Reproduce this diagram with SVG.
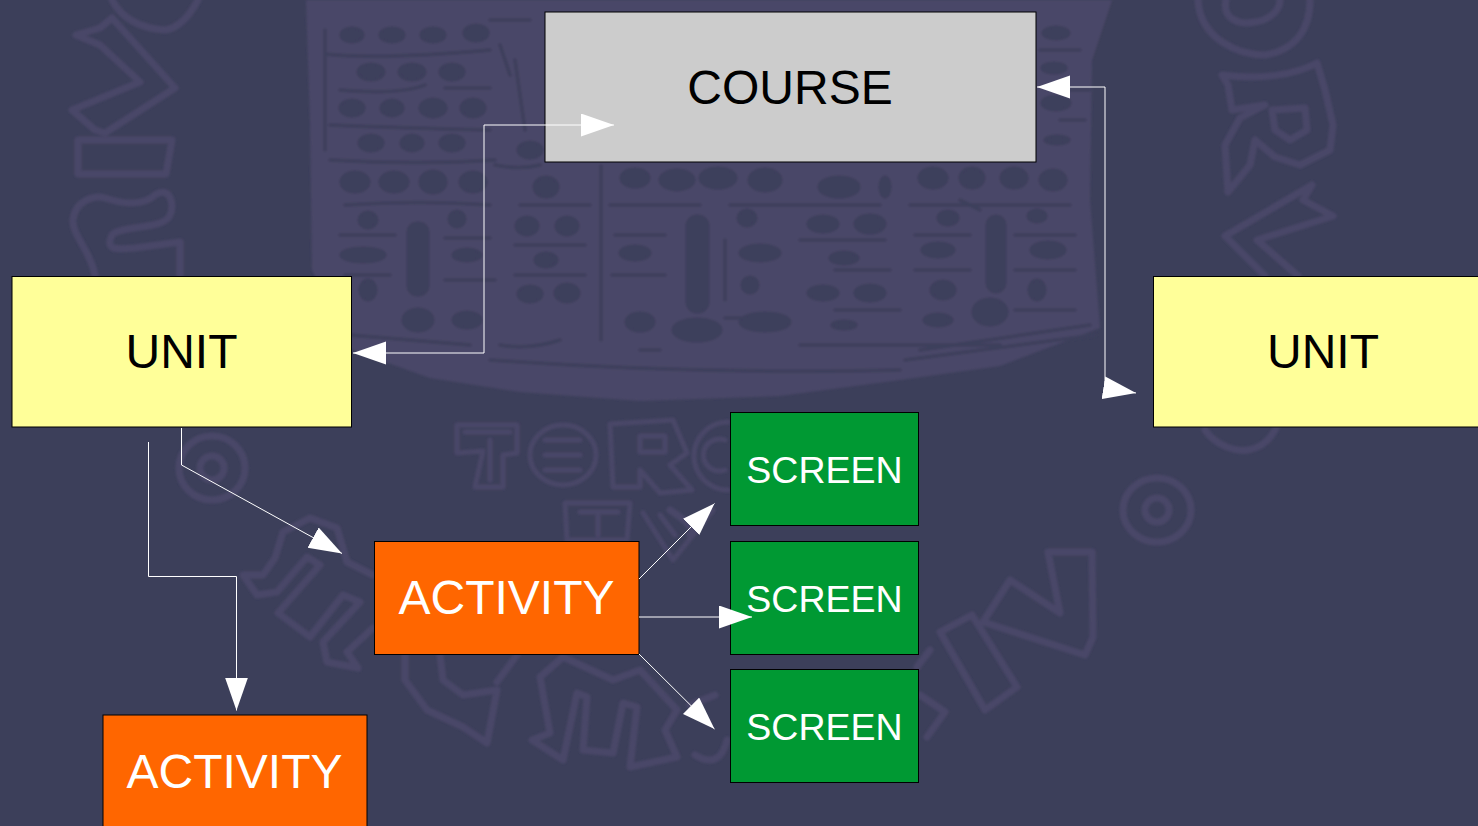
<svg xmlns="http://www.w3.org/2000/svg" width="1478" height="826" viewBox="0 0 1478 826">
<defs>
<style>
.wm{fill:none;stroke:#4a4768;stroke-width:7;stroke-linejoin:round;stroke-linecap:round}
.wt{fill:none;stroke:#4a4768;stroke-width:5;stroke-linejoin:round;stroke-linecap:round}
.h{fill:#3d3f5c;stroke:#3d3f5c;stroke-width:3}
.hl{fill:none;stroke:#3d3f5c;stroke-width:3.500;stroke-linecap:round}
.c{fill:none;stroke:#fff;stroke-width:1}
.b{stroke:#000;stroke-width:1}
text{font-family:"Liberation Sans",Arial,sans-serif;text-anchor:middle}
.k{fill:#000;font-size:48px}
.w{fill:#fff;font-size:48px}
.s{fill:#fff;font-size:37.500px}
</style>
<filter id="soft" x="-2%" y="-2%" width="104%" height="104%"><feGaussianBlur stdDeviation="0.9"/></filter>
<marker id="a" markerUnits="userSpaceOnUse" markerWidth="34" markerHeight="24" refX="33" refY="11.5" orient="auto-start-reverse"><path d="M0 0L33 11.5L0 23Z" fill="#fff"/></marker>
</defs>
<rect width="1478" height="826" fill="#3c3f5a"/>
<g id="watermark" filter="url(#soft)">
<path d="M306 0H1112L1092 60L1090 200L1100 328L1000 366L900 380L780 396L640 401L520 392L430 378L352 350L312 270L310 120Z" fill="#4a4768"/>
<g class="h">
<ellipse cx="352" cy="35" rx="11" ry="7"/><ellipse cx="392" cy="35" rx="12" ry="7"/><ellipse cx="433" cy="35" rx="12" ry="7"/><ellipse cx="476" cy="33" rx="12" ry="8"/>
<ellipse cx="371" cy="72" rx="13" ry="8"/><ellipse cx="412" cy="72" rx="13" ry="8"/><ellipse cx="452" cy="72" rx="12" ry="8"/>
<ellipse cx="352" cy="108" rx="12" ry="8"/><ellipse cx="392" cy="108" rx="11" ry="8"/><ellipse cx="433" cy="108" rx="13" ry="9"/><ellipse cx="473" cy="108" rx="12" ry="9"/>
<ellipse cx="371" cy="143" rx="12" ry="8"/><ellipse cx="412" cy="143" rx="11" ry="8"/><ellipse cx="452" cy="143" rx="12" ry="8"/><ellipse cx="530" cy="150" rx="12" ry="8"/>
<ellipse cx="355" cy="182" rx="14" ry="10"/><ellipse cx="394" cy="182" rx="14" ry="10"/><ellipse cx="433" cy="182" rx="13" ry="11"/><ellipse cx="473" cy="182" rx="13" ry="10"/><ellipse cx="546" cy="187" rx="12" ry="10"/>
<ellipse cx="635" cy="178" rx="14" ry="9"/><ellipse cx="677" cy="180" rx="17" ry="10"/><ellipse cx="718" cy="178" rx="18" ry="10"/><ellipse cx="765" cy="180" rx="16" ry="11"/><ellipse cx="839" cy="187" rx="20" ry="10"/><ellipse cx="885" cy="187" rx="5" ry="10"/>
<ellipse cx="933" cy="178" rx="14" ry="10"/><ellipse cx="972" cy="178" rx="12" ry="10"/><ellipse cx="1014" cy="178" rx="13" ry="10"/><ellipse cx="1053" cy="180" rx="13" ry="10"/>
<ellipse cx="1056" cy="33" rx="13" ry="6"/><ellipse cx="1056" cy="103" rx="14" ry="7"/><ellipse cx="1054" cy="68" rx="12" ry="5"/><ellipse cx="1057" cy="140" rx="12" ry="4"/>
<rect x="408" y="223" width="20" height="72" rx="9"/><rect x="687" y="216" width="21" height="96" rx="10"/><rect x="987" y="216" width="18" height="76" rx="9"/>
<ellipse cx="368" cy="220" rx="9" ry="8"/><ellipse cx="457" cy="219" rx="8" ry="8"/><ellipse cx="527" cy="226" rx="11" ry="9"/><ellipse cx="567" cy="226" rx="11" ry="9"/><ellipse cx="747" cy="218" rx="9" ry="8"/><ellipse cx="823" cy="224" rx="15" ry="8"/><ellipse cx="870" cy="224" rx="15" ry="9"/><ellipse cx="948" cy="218" rx="10" ry="7"/><ellipse cx="1037" cy="216" rx="9" ry="6"/>
<ellipse cx="363" cy="255" rx="22" ry="7"/><ellipse cx="467" cy="255" rx="14" ry="6"/><ellipse cx="546" cy="260" rx="11" ry="7"/><ellipse cx="635" cy="253" rx="15" ry="7"/><ellipse cx="760" cy="253" rx="20" ry="8"/><ellipse cx="844" cy="258" rx="14" ry="6"/><ellipse cx="938" cy="250" rx="16" ry="7"/><ellipse cx="1048" cy="250" rx="17" ry="8"/>
<ellipse cx="368" cy="290" rx="8" ry="10"/><ellipse cx="530" cy="294" rx="12" ry="8"/><ellipse cx="567" cy="293" rx="12" ry="9"/><ellipse cx="750" cy="285" rx="8" ry="8"/><ellipse cx="823" cy="293" rx="15" ry="7"/><ellipse cx="870" cy="293" rx="15" ry="8"/><ellipse cx="943" cy="290" rx="12" ry="9"/><ellipse cx="1037" cy="290" rx="8" ry="10"/>
<ellipse cx="418" cy="320" rx="15" ry="11"/><ellipse cx="467" cy="320" rx="14" ry="8"/><ellipse cx="640" cy="322" rx="14" ry="9"/><ellipse cx="697" cy="330" rx="24" ry="11"/><ellipse cx="765" cy="322" rx="25" ry="9"/><ellipse cx="844" cy="325" rx="12" ry="4"/><ellipse cx="990" cy="312" rx="17" ry="13"/><ellipse cx="938" cy="320" rx="14" ry="6"/>
</g>
<g class="hl">
<path d="M325 54Q380 60 490 50M340 90Q400 95 425 85M445 88H490M330 125Q400 128 490 130M330 160Q420 165 495 160M345 205Q420 200 490 205M515 60L525 130M500 45L510 75M520 205H590M601 166V340M325 30V150M490 20H530M495 165Q520 170 540 165"/>
<path d="M610 205H700M730 205H880M910 205H1070M1070 90H1090M1060 120H1085M1040 50H1080"/>
<path d="M500 345Q530 350 560 340M640 350H660M800 345H1000M920 350L1090 325M905 360L1095 335M490 360Q700 375 900 370M350 335L470 345"/>
<path d="M835 270H890M835 310H900M960 200L980 210M340 235H395M345 275H390M445 238H490M445 280H495M515 245H585M515 275H585M615 235H665M612 275H665M725 240V300M800 240H885M915 235H970M915 270H970M1015 235H1075M1015 270H1075M1015 310H1075M725 318H740"/>
</g>
<g class="wm">
<path d="M112 0C120 15 135 28 165 30C180 28 190 15 198 0"/>
<path d="M76 35L100 28L112 18L175 88L105 133L95 130L72 110L140 82L100 45Z"/>
<path d="M78 140H172L166 174H78Z"/>
<path d="M95 275C90 250 72 235 73 220C75 200 95 195 105 198C125 205 145 205 155 195C170 185 175 205 170 215C165 230 120 225 112 235C105 250 115 250 135 248L180 242V275"/>
<path d="M1198 0C1200 40 1240 55 1265 55C1295 50 1310 30 1310 0"/>
<path d="M1226 0C1222 20 1240 25 1255 22C1270 20 1280 10 1280 0"/>
<path d="M1222 75C1260 80 1295 75 1317 63L1325 90L1333 125L1330 150L1300 165L1275 157L1255 140L1250 165L1228 192L1225 145L1240 118L1265 105L1232 110L1228 85Z"/>
<path d="M1272 110L1305 108L1307 130L1290 140L1275 130Z"/>
<path d="M1312 185L1225 236L1265 276M1312 185L1303 200L1333 216L1257 240L1298 276"/>
<path d="M1205 430C1215 445 1235 452 1248 450C1260 448 1270 440 1276 428"/>
<ellipse cx="1157" cy="510" rx="34" ry="32"/><circle cx="1157" cy="510" r="12"/>
<ellipse cx="212" cy="468" rx="33" ry="32"/><circle cx="212" cy="468" r="12"/>
<path d="M1048 552H1092L1093 637L1085 655L983 622L1010 580L1060 613Z"/>
<path d="M940 632L972 615L1017 687L985 710Z"/>
<path d="M920 695L945 712L927 737M917 667L930 650"/>
<path d="M373 575L347 562L337 528L310 518L283 532L275 558L263 575H243L257 595L277 592L307 557L320 565L278 613L310 637L343 595L360 602L323 642L327 662L358 668L347 652L373 628"/>
<path d="M405 655V680L427 710L463 727L487 743L497 690L463 695L443 680L440 655M517 655L497 682"/>
<path d="M540 677L563 657L613 680L640 670L677 710L665 730L677 757L630 767L637 707L623 703L613 753L583 750L587 697L577 693L563 760L532 740L550 733Z"/>
<path d="M690 705L715 695M695 755Q720 770 727 740"/>
<path d="M670 510Q700 530 690 535"/>
</g>
<g class="wt">
<path d="M457 425H517V453L503 455V487H475L483 451L457 453Z"/>
<path d="M465 432H510M490 440V480"/>
<ellipse cx="563" cy="455" rx="33" ry="30"/><path d="M545 440H580M545 455H580M545 470H580"/>
<path d="M610 424L673 420L687 453L670 465L692 490L660 493L640 470V487H613Z"/><path d="M640 436H665V452H640Z"/>
<path d="M728 422A34 34 0 1 0 728 490M725 440A16 16 0 1 0 725 470"/>
<path d="M565 503H630L627 540H567Z"/><path d="M580 512H618M598 512V535"/>
<path d="M643 513L673 560L713 510M660 515L675 535"/>
</g>
</g>
<g id="course"><rect class="b" x="545" y="12" width="491" height="150" fill="#ccc"/><text class="k" x="790" y="104">COURSE</text></g>
<g id="unit1"><rect class="b" x="12" y="276.500" width="339.500" height="150.500" fill="#ff9"/><text class="k" x="181.500" y="368">UNIT</text></g>
<g id="unit2"><rect class="b" x="1153.500" y="276.500" width="340" height="150.500" fill="#ff9"/><text class="k" x="1323" y="368">UNIT</text></g>
<g id="activity1"><rect class="b" x="374.500" y="541.500" width="264.500" height="113" fill="#f60"/><text class="w" x="506.500" y="614">ACTIVITY</text></g>
<g id="activity2"><rect class="b" x="103" y="715" width="264" height="120" fill="#f60"/><text class="w" x="234.500" y="788">ACTIVITY</text></g>
<g id="screen1"><rect class="b" x="730.500" y="412.500" width="188" height="113" fill="#093"/><text class="s" x="824.500" y="483">SCREEN</text></g>
<g id="screen2"><rect class="b" x="730.500" y="541.500" width="188" height="113" fill="#093"/><text class="s" x="824.500" y="612">SCREEN</text></g>
<g id="screen3"><rect class="b" x="730.500" y="669.500" width="188" height="113" fill="#093"/><text class="s" x="824.500" y="740">SCREEN</text></g>
<g id="connectors">
<path class="c" d="M353 353H484V125H614" marker-start="url(#a)" marker-end="url(#a)"/>
<path class="c" d="M1037 87H1105V388L1136 393" marker-start="url(#a)" marker-end="url(#a)"/>
<path class="c" d="M181.500 428V465L342 553.500" marker-end="url(#a)"/>
<path class="c" d="M148.500 442V576.500H236.500V710.500" marker-end="url(#a)"/>
<path class="c" d="M639 579L714.500 503.500" marker-end="url(#a)"/>
<path class="c" d="M639 617H752" marker-end="url(#a)"/>
<path class="c" d="M639 654L714.500 729" marker-end="url(#a)"/>
</g>
</svg>
